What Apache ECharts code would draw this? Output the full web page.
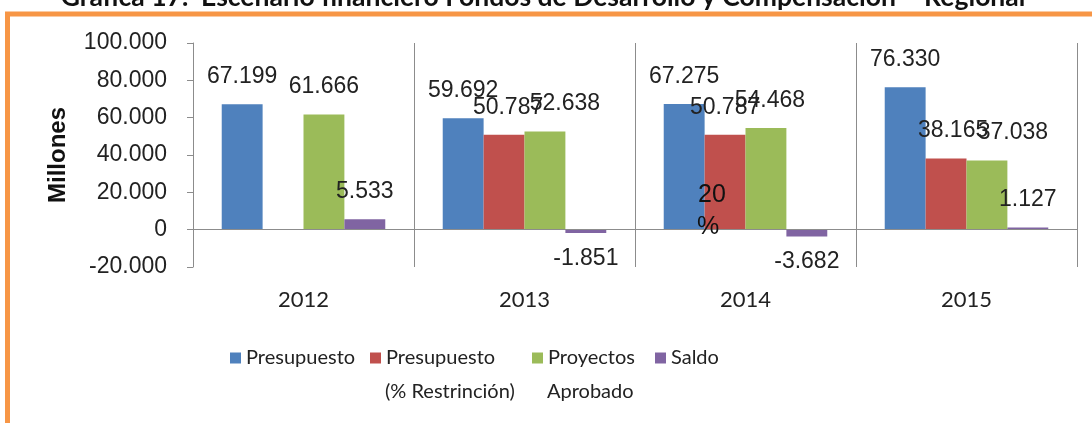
<!DOCTYPE html>
<html>
<head>
<meta charset="utf-8">
<script src="https://cdn.jsdelivr.net/npm/echarts@6/dist/echarts.min.js"></script>
<style>
html,body{margin:0;padding:0;background:#fff;}
#chart{width:1092px;height:423px;}
</style>
</head>
<body>
<div id="chart"></div>
<script>
// ---- data ----
const categories = ['2012', '2013', '2014', '2015'];
const seriesNames = ['Presupuesto', 'Presupuesto (% Restrinción)', 'Proyectos Aprobado', 'Saldo'];
const presupuesto = [67199, 59692, 67275, 76330];
const presupuestoRestriccion = [null, 50787, 50787, 38165];
const proyectosAprobado = [61666, 52638, 54468, 37038];
const saldo = [5533, -1851, -3682, 1127];
const yTicks = { min: -20000, max: 100000, interval: 20000 };
const titleText = 'Gráfica 17.  Escenario financiero Fondos de Desarrollo y Compensación – Regional';
const yAxisTitle = 'Millones';
const annotationText = ['20', '%'];

// ---- styling ----
const colors = ['#4F81BD', '#C0504D', '#9BBB59', '#8064A2'];
const labelShiftX = [[0, 0, 0, 0], [0, 4, 0, 7], [0, 20, 4, 26], [0, 0, 0, 0]];
const numFont = 'Liberation Sans';
const txtFont = 'Lato';

function fmt(v) {
  if (v === null || v === undefined) return '';
  const neg = v < 0;
  let s = String(Math.abs(Math.round(v)));
  s = s.replace(/\B(?=(\d{3})+(?!\d))/g, '.');
  return (neg ? '-' : '') + s;
}

const allData = [presupuesto, presupuestoRestriccion, proyectosAprobado, saldo];

const series = allData.map((arr, si) => ({
  name: seriesNames[si],
  type: 'bar',
  barGap: '0%',
  barCategoryGap: '26%',
  itemStyle: { color: colors[si] },
  data: arr.map((v, i) => ({
    value: v,
    label: {
      show: v !== null,
      position: v < 0 ? 'bottom' : 'top',
      distance: v < 0 ? 14 : 16,
      offset: [labelShiftX[si][i], 0],
      formatter: (p) => fmt(p.value),
      fontFamily: numFont,
      fontSize: 23,
      color: '#222'
    }
  })),
  markLine: si === 0 ? {
    silent: true,
    symbol: ['none', 'none'],
    label: { show: false },
    lineStyle: { color: '#8c8c8c', width: 1, type: 'solid' },
    data: [{ yAxis: 0 }],
    animation: false
  } : undefined,
  animation: false
}));

const legends = seriesNames.map((n, i) => ({
  data: [n],
  left: [230, 370, 532, 655][i],
  top: 348,
  padding: 0,
  itemWidth: 11,
  itemHeight: 11,
  icon: 'rect',
  itemGap: 0,
  selectedMode: false,
  formatter: () => ['Presupuesto', 'Presupuesto', 'Proyectos', 'Saldo'][i],
  textStyle: { fontFamily: txtFont, fontSize: 20, color: '#222', padding: [0, 0, 0, 0] }
}));

const chart = echarts.init(document.getElementById('chart'), null, { renderer: 'canvas' });
chart.setOption({
  animation: false,
  backgroundColor: '#fff',
  grid: { left: 193, right: 15, top: 43, bottom: 156, containLabel: false },
  legend: legends,
  xAxis: {
    type: 'category',
    data: categories,
    axisLine: { show: false },
    axisTick: { show: false },
    splitLine: { show: true, lineStyle: { color: '#8c8c8c', width: 1 } },
    axisLabel: { margin: 22, fontFamily: txtFont, fontSize: 22, color: '#222' }
  },
  yAxis: {
    type: 'value',
    min: yTicks.min,
    max: yTicks.max,
    interval: yTicks.interval,
    axisLine: { show: true, lineStyle: { color: '#8c8c8c' } },
    axisTick: { show: true, length: 6, lineStyle: { color: '#8c8c8c' } },
    splitLine: { show: false },
    axisLabel: { margin: 26, formatter: fmt, fontFamily: numFont, fontSize: 23, color: '#222' }
  },
  series: series,
  graphic: [
    {
      type: 'rect', silent: true, z: 100,
      shape: { x: 7.5, y: 14, width: 1200, height: 600 },
      style: { fill: 'none', stroke: '#F79646', lineWidth: 5 }
    },
    {
      type: 'text', silent: true, z: 100, x: 543, y: -3,
      style: { text: titleText, fontFamily: txtFont, fontWeight: 'bold', fontSize: 26.5, fill: '#111', align: 'center', verticalAlign: 'middle' }
    },
    {
      type: 'text', silent: true, x: 58, y: 155, rotation: Math.PI / 2,
      style: { text: yAxisTitle, fontFamily: numFont, fontWeight: 'bold', fontSize: 24, fill: '#111', align: 'center', verticalAlign: 'middle' }
    },
    {
      type: 'text', silent: true, z: 100, x: 712, y: 195,
      style: { text: annotationText[0], fontFamily: numFont, fontSize: 25, fill: '#111', align: 'center', verticalAlign: 'middle' }
    },
    {
      type: 'text', silent: true, z: 100, x: 708, y: 227,
      style: { text: annotationText[1], fontFamily: numFont, fontSize: 25, fill: '#111', align: 'center', verticalAlign: 'middle' }
    },
    {
      type: 'text', silent: true, x: 385, y: 392,
      style: { text: '(% Restrinción)', fontFamily: txtFont, fontSize: 20, fill: '#222', align: 'left', verticalAlign: 'middle' }
    },
    {
      type: 'text', silent: true, x: 547, y: 392,
      style: { text: 'Aprobado', fontFamily: txtFont, fontSize: 20, fill: '#222', align: 'left', verticalAlign: 'middle' }
    }
  ]
});
</script>
</body>
</html>
